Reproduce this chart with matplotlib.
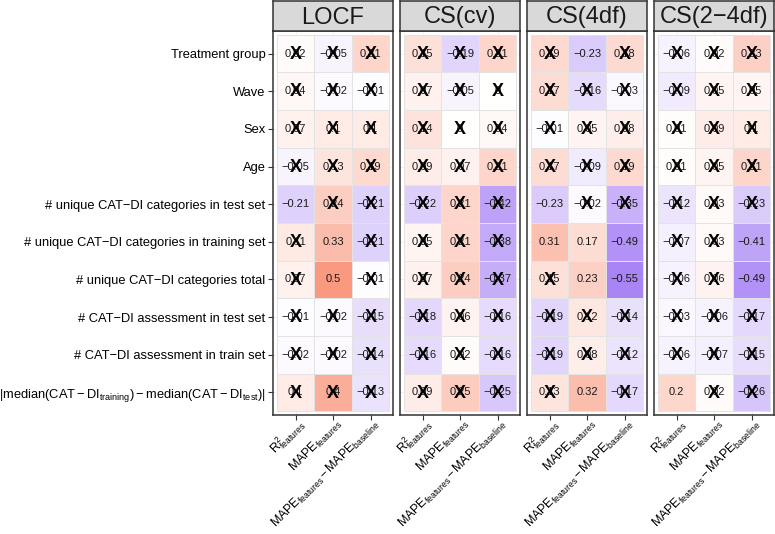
import matplotlib
matplotlib.use("Agg")
import matplotlib.pyplot as plt
from matplotlib.colors import LinearSegmentedColormap, Normalize
from matplotlib.transforms import ScaledTranslation, blended_transform_factory
import numpy as np

plt.rcParams['font.family'] = ['Liberation Sans', 'DejaVu Sans']
plt.rcParams['mathtext.fontset'] = 'custom'
plt.rcParams['mathtext.rm'] = 'Liberation Sans'
plt.rcParams['mathtext.it'] = 'Liberation Sans:italic'
plt.rcParams['mathtext.bf'] = 'Liberation Sans:bold'

methods = ["LOCF", "CS(cv)", "CS(4df)", "CS(2\u22124df)"]

row_labels = [
    "Treatment group",
    "Wave",
    "Sex",
    "Age",
    "# unique CAT\u2212DI categories in test set",
    "# unique CAT\u2212DI categories in training set",
    "# unique CAT\u2212DI categories total",
    "# CAT\u2212DI assessment in test set",
    "# CAT\u2212DI assessment in train set",
    r"$|\mathrm{median}(\mathrm{CAT}-\mathrm{DI}_{\mathrm{training}})-\mathrm{median}(\mathrm{CAT}-\mathrm{DI}_{\mathrm{test}})|$",
]

col_labels = [
    r"$\mathrm{R}^2_{\mathrm{features}}$",
    r"$\mathrm{MAPE}_{\mathrm{features}}$",
    r"$\mathrm{MAPE}_{\mathrm{features}}\,{-}\,\mathrm{MAPE}_{\mathrm{baseline}}$",
]

# correlation values, rows x (R2, MAPE, MAPE diff)
vals_locf = [
    [0.02, -0.05, 0.21],
    [0.04, -0.02, -0.01],
    [0.07, 0.1, 0.1],
    [-0.05, 0.13, 0.19],
    [-0.21, 0.24, -0.21],
    [0.11, 0.33, -0.21],
    [0.07, 0.5, -0.01],
    [-0.01, -0.02, -0.15],
    [-0.02, -0.02, -0.14],
    [0.1, 0.4, -0.13],
]
vals_cscv = [
    [0.15, -0.19, 0.21],
    [0.07, -0.05, 0.0],
    [0.14, 0.0, 0.04],
    [0.09, 0.07, 0.21],
    [-0.22, 0.21, -0.42],
    [0.05, 0.21, -0.38],
    [0.07, 0.24, -0.37],
    [-0.18, 0.06, -0.16],
    [-0.16, 0.02, -0.16],
    [0.09, 0.25, -0.25],
]
vals_cs4 = [
    [0.19, -0.23, 0.18],
    [0.17, -0.16, -0.03],
    [-0.01, 0.05, 0.08],
    [0.17, -0.09, 0.19],
    [-0.23, -0.02, -0.35],
    [0.31, 0.17, -0.49],
    [0.15, 0.23, -0.55],
    [-0.19, 0.12, -0.14],
    [-0.19, 0.08, -0.12],
    [0.13, 0.32, -0.17],
]
vals_cs24 = [
    [-0.06, 0.02, 0.23],
    [-0.09, 0.05, 0.05],
    [0.01, 0.09, 0.1],
    [0.01, 0.05, 0.21],
    [-0.12, 0.03, -0.23],
    [-0.07, 0.03, -0.41],
    [-0.06, 0.06, -0.49],
    [-0.03, -0.06, -0.17],
    [-0.06, -0.07, -0.15],
    [0.2, 0.02, -0.26],
]

# significance (1 = significant, no cross)
sig_locf = [
    [0, 0, 0], [0, 0, 0], [0, 0, 0], [0, 0, 0],
    [1, 0, 0], [0, 1, 0], [0, 1, 0], [0, 0, 0], [0, 0, 0], [0, 0, 0],
]
sig_cscv = [[0, 0, 0]] * 10
sig_cs4 = [
    [0, 1, 0], [0, 0, 0], [0, 0, 0], [0, 0, 0],
    [1, 0, 0], [1, 1, 1], [0, 1, 1], [0, 0, 0], [0, 0, 0], [0, 1, 0],
]
sig_cs24 = [
    [0, 0, 0], [0, 0, 0], [0, 0, 0], [0, 0, 0],
    [0, 0, 0], [0, 0, 1], [0, 0, 1], [0, 0, 0], [0, 0, 0], [1, 0, 0],
]

all_vals = [vals_locf, vals_cscv, vals_cs4, vals_cs24]
all_sig = [sig_locf, sig_cscv, sig_cs4, sig_cs24]

cmap = LinearSegmentedColormap.from_list(
    "pw", [(0.0, "#A17AF4"), (0.5, "#FFFFFF"), (1.0, "#F88667")])
norm = Normalize(vmin=-0.6, vmax=0.6)


def fmt(v):
    s = f"{abs(v):.2f}".rstrip("0").rstrip(".")
    if s == "":
        s = "0"
    if v < 0 and s != "0":
        s = "\u2212" + s
    return s


W, H = 775, 534
fig = plt.figure(figsize=(W / 100, H / 100), dpi=100)

panel_w = 120
panel_x = [273, 400, 527, 654]
panel_top = 31
panel_bot = 415
strip_top = 1

nrow = len(row_labels)
ncol = len(col_labels)

for k, m in enumerate(methods):
    x0 = panel_x[k]
    ax = fig.add_axes([x0 / W, 1 - panel_bot / H, panel_w / W,
                       (panel_bot - panel_top) / H])
    data = np.array(all_vals[k], dtype=float)
    sig = np.array(all_sig[k], dtype=bool)
    ax.set_axisbelow(True)
    ax.grid(True, color="#EBEBEB", lw=0.5)
    xe = np.arange(ncol + 1) - 0.5
    ye = np.arange(nrow + 1) - 0.5
    ax.pcolormesh(xe, ye, data, cmap=cmap, norm=norm,
                  edgecolors="#E3E3E3", linewidth=0.5, zorder=2)
    for i in range(nrow):
        for j in range(ncol):
            ax.text(j, i, fmt(data[i, j]), ha="center", va="center",
                    fontsize=8, color="#1a1a1a", zorder=3)
            if not sig[i, j]:
                ax.text(j, i + 0.02, "X", ha="center", va="center",
                        fontsize=13, fontweight="bold", color="black",
                        zorder=4)
    ax.set_xlim(-0.6, ncol - 0.4)
    ax.set_ylim(nrow - 0.4, -0.6)
    ax.set_xticks(range(ncol))
    ax.set_xticklabels([])
    trans = blended_transform_factory(ax.transData, ax.transAxes) + \
        ScaledTranslation(0.09, -0.09, fig.dpi_scale_trans)
    for j, lab in enumerate(col_labels):
        ax.text(j, 0, lab, transform=trans, rotation=45, ha="right",
                va="baseline", rotation_mode="anchor", fontsize=8.9,
                color="black", clip_on=False)
    ax.set_yticks(range(nrow))
    if k == 0:
        ax.set_yticklabels(row_labels, fontsize=9.3)
    else:
        ax.set_yticklabels([])
    ax.tick_params(axis="both", color="#333333", width=0.8, length=3.5,
                   pad=2, labelcolor="black")
    if k != 0:
        ax.tick_params(axis="y", length=0)
    for sp in ax.spines.values():
        sp.set_color("#333333")
        sp.set_linewidth(1.1)

    sax = fig.add_axes([x0 / W, 1 - panel_top / H, panel_w / W,
                        (panel_top - strip_top) / H])
    sax.set_facecolor("#D9D9D9")
    sax.set_xticks([])
    sax.set_yticks([])
    for sp in sax.spines.values():
        sp.set_color("#333333")
        sp.set_linewidth(1.1)
    sax.text(0.5, 0.45, m, ha="center", va="center", fontsize=17,
             color="#1a1a1a", transform=sax.transAxes)

fig.savefig("out.png", dpi=100)
